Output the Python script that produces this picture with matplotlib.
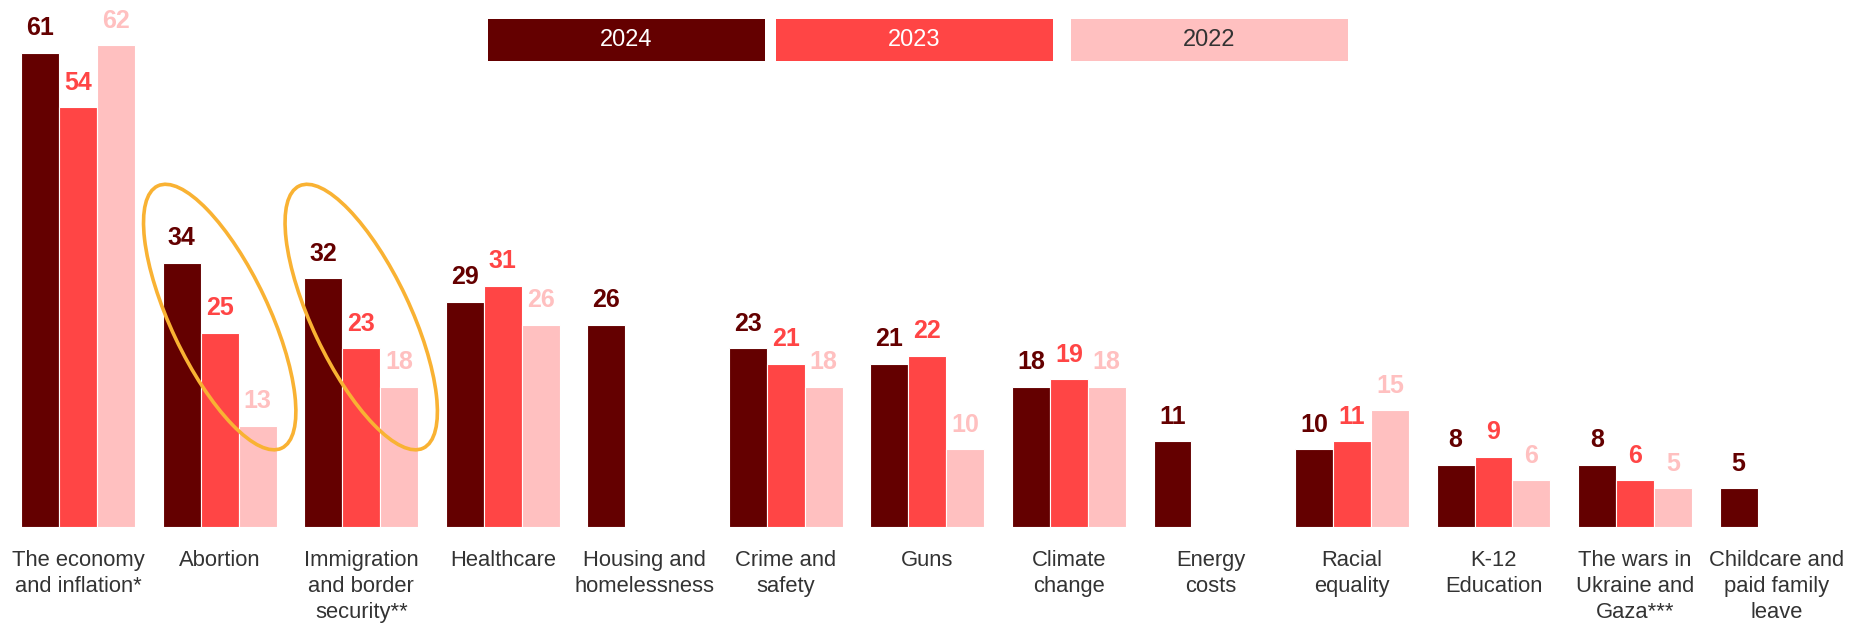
import numpy as np
import matplotlib.pyplot as plt
from matplotlib.patches import Ellipse, Rectangle
from matplotlib import transforms

plt.rcParams['font.family'] = ['Liberation Sans', 'DejaVu Sans']

# datos
categorias = ["The economy\nand inflation*", "Abortion", "Immigration\nand border\nsecurity**",
              "Healthcare", "Housing and\nhomelessness", "Crime and\nsafety", "Guns",
              "Climate\nchange", "Energy\ncosts", "Racial\nequality", "K-12\nEducation",
              "The wars in\nUkraine and\nGaza***", "Childcare and\npaid family\nleave"]
v2024 = [61, 34, 32, 29, 26, 23, 21, 18, 11, 10, 8, 8, 5]
v2023 = [54, 25, 23, 31, np.nan, 21, 22, 19, np.nan, 11, 9, 6, np.nan]
v2022 = [62, 13, 18, 26, np.nan, 18, 10, 18, np.nan, 15, 6, 5, np.nan]
anios = ["2024", "2023", "2022"]
destacados = [1, 2]  # grupos con elipse

colores = ["#640000", "#FF4545", "#FFC0C0"]
txt_leyenda = ["white", "white", "#333333"]

fig = plt.figure(figsize=(18.51, 6.34), dpi=100)
ax = fig.add_axes([0.004, 0.169, 0.994, 0.831])

x = np.arange(len(categorias))
ancho = 0.268
series = [v2024, v2023, v2022]
for i, (vals, col) in enumerate(zip(series, colores)):
    pos = x + (i - 1) * ancho
    bars = ax.bar(pos, vals, width=ancho, color=col, edgecolor='white', linewidth=0.8)
    for xx, v in zip(pos, vals):
        if np.isnan(v):
            continue
        ax.annotate(f"{v:g}", (xx, v), xytext=(0, 9), textcoords='offset points',
                    ha='center', va='bottom', fontsize=18, fontweight='bold', color=col)

ax.set_xlim(-0.5, len(categorias) - 0.5)
ax.set_ylim(0, 67.8)
ax.set_xticks(x)
ax.set_xticklabels(categorias, fontsize=15.8, color='#333333', linespacing=1.3)
ax.tick_params(axis='x', length=0, pad=17)
ax.set_yticks([])
for s in ax.spines.values():
    s.set_visible(False)

# elipses
for g in destacados:
    tr = fig.dpi_scale_trans + transforms.ScaledTranslation(g, 27, ax.transData)
    ax.add_patch(Ellipse((0, 0), width=2.9, height=0.98, angle=-64.7, transform=tr,
                         fill=False, edgecolor='#F9B233', linewidth=2.6, clip_on=False))

# leyenda
x0s = [0.2636, 0.4192, 0.5786]
for x0, a, col, tc in zip(x0s, anios, colores, txt_leyenda):
    fig.patches.append(Rectangle((x0, 0.9038), 0.1497, 0.0662, transform=fig.transFigure,
                                 facecolor=col, edgecolor='none'))
    fig.text(x0 + 0.1497 / 2, 0.9038 + 0.0662 / 2, a, ha='center', va='center',
             fontsize=17, color=tc)

plt.savefig('out.png', dpi=100)
